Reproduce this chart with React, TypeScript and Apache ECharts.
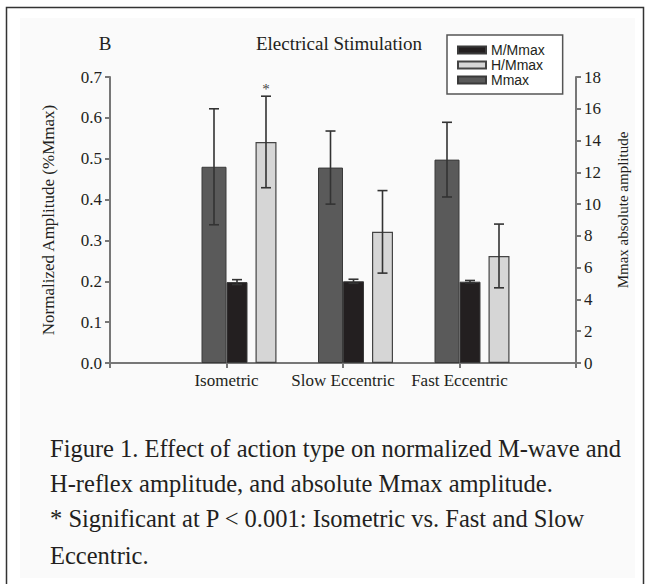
import React, { useEffect, useRef } from "react";
import * as echarts from "echarts";

const categories = ["Isometric", "Slow Eccentric", "Fast Eccentric"];
const mMaxMean = [12.35, 12.3, 12.8];
const mMaxSd = [3.65, 2.3, 2.35];
const mRatioMean = [0.198, 0.2, 0.199];
const mRatioSd = [0.006, 0.005, 0.003];
const hRatioMean = [0.541, 0.321, 0.262];
const hRatioSd = [0.112, 0.101, 0.078];
const significance = ["*", "", ""];
const leftTicks = { min: 0, max: 0.7, interval: 0.1 };
const rightTicks = { min: 0, max: 18, interval: 2 };
const captionLines = [
  "Figure 1. Effect of action type on normalized M-wave and",
  "H-reflex amplitude, and absolute Mmax amplitude.",
  "* Significant at P < 0.001: Isometric vs. Fast and Slow",
  "Eccentric.",
];

const SERIF = "'Liberation Serif', 'Times New Roman', serif";
const SANS = "'Liberation Sans', Arial, sans-serif";
const INK = "#231f20";

// bar widths (px)
const W_LEAD = 25;
const W_MMAX = 25;
const W_M = 21;
const W_GAP = 8;
const W_H = 21;
const TOTAL = W_LEAD + W_MMAX + W_M + W_GAP + W_H;
const start = -TOTAL / 2;
const OFF_MMAX = start + W_LEAD + W_MMAX / 2;
const OFF_M = start + W_LEAD + W_MMAX + W_M / 2;
const OFF_H = start + W_LEAD + W_MMAX + W_M + W_GAP + W_H / 2;

const xData = ["", ...categories, ""];
const pad = (arr: any[]) => ["-", ...arr, "-"];
const errData = (mean: number[], sd: number[]) =>
  mean.map((m, i) => [i + 1, m, sd[i], i]);

function errorSeries(name: string, yAxisIndex: number, mean: number[], sd: number[], offset: number, marks?: string[]) {
  return {
    type: "custom",
    name: name + " error",
    xAxisIndex: 0,
    yAxisIndex,
    silent: true,
    z: 10,
    data: errData(mean, sd),
    encode: { x: 0, y: 1 },
    renderItem: (params: any, api: any) => {
      const idx = api.value(0);
      const m = api.value(1);
      const s = api.value(2);
      const di = api.value(3);
      const top = api.coord([idx, m + s]);
      const bot = api.coord([idx, m - s]);
      const x = top[0] + offset;
      const cap = 5;
      const st = { stroke: "#333", lineWidth: 1.6 };
      const children: any[] = [
        { type: "line", shape: { x1: x, y1: top[1], x2: x, y2: bot[1] }, style: st },
        { type: "line", shape: { x1: x - cap, y1: top[1], x2: x + cap, y2: top[1] }, style: st },
        { type: "line", shape: { x1: x - cap, y1: bot[1], x2: x + cap, y2: bot[1] }, style: st },
      ];
      if (marks && marks[di]) {
        children.push({
          type: "text",
          style: {
            text: marks[di],
            x,
            y: top[1] - 7,
            align: "center",
            verticalAlign: "middle",
            font: `15px ${SERIF}`,
            fill: "#444",
          },
        });
      }
      return { type: "group", children };
    },
  };
}

export default function App() {
  const ref = useRef<HTMLDivElement>(null);
  useEffect(() => {
    if (!ref.current) return;
    const chart = echarts.init(ref.current, undefined, { renderer: "svg" });
    const barBorder = { borderColor: "#3a3a3a", borderWidth: 1 };
    chart.setOption({
      animation: false,
      backgroundColor: "#ffffff",
      grid: { left: 110, right: 74, top: 77, bottom: 221 },
      legend: {
        data: ["M/Mmax", "H/Mmax", "Mmax"],
        orient: "vertical",
        left: 447,
        top: 35,
        itemWidth: 28,
        itemHeight: 7,
        itemGap: 1,
        padding: [8, 18, 7, 10],
        borderColor: "#555",
        borderWidth: 1.5,
        backgroundColor: "#ffffff",
        icon: "rect",
        selectedMode: false,
        textStyle: { fontFamily: SANS, fontSize: 14, color: INK },
      },
      xAxis: {
        type: "category",
        boundaryGap: false,
        data: xData,
        axisLine: { show: true, lineStyle: { color: "#777", width: 2 } },
        axisTick: { show: true, length: 5, lineStyle: { color: "#777", width: 2 } },
        axisLabel: { fontFamily: SERIF, fontSize: 17, color: INK, margin: 9, interval: 0 },
        splitLine: { show: false },
      },
      yAxis: [
        {
          type: "value",
          min: leftTicks.min,
          max: leftTicks.max,
          interval: leftTicks.interval,
          name: "Normalized Amplitude (%Mmax)",
          nameLocation: "middle",
          nameGap: 53,
          nameTextStyle: { fontFamily: SERIF, fontSize: 17, color: INK },
          axisLine: { show: true, lineStyle: { color: "#777", width: 2 } },
          axisTick: { show: true, length: 5, lineStyle: { color: "#777", width: 2 } },
          axisLabel: {
            fontFamily: SERIF,
            fontSize: 17,
            color: INK,
            margin: 8,
            formatter: (v: number) => v.toFixed(1),
          },
          splitLine: { show: false },
        },
        {
          type: "value",
          min: rightTicks.min,
          max: rightTicks.max,
          interval: rightTicks.interval,
          position: "right",
          name: "Mmax absolute amplitude",
          nameLocation: "middle",
          nameGap: 39,
          nameRotate: 90,
          nameTextStyle: { fontFamily: SERIF, fontSize: 15, color: INK, padding: [0, 0, 0, 20] },
          axisLine: { show: true, lineStyle: { color: "#777", width: 2 } },
          axisTick: { show: true, length: 5, lineStyle: { color: "#777", width: 2 } },
          axisLabel: { fontFamily: SERIF, fontSize: 17, color: INK, margin: 8 },
          splitLine: { show: false },
        },
      ],
      series: [
        {
          type: "bar",
          name: "lead",
          yAxisIndex: 0,
          barWidth: W_LEAD,
          barGap: "0%",
          data: pad(categories.map(() => 0)),
          itemStyle: { color: "rgba(0,0,0,0)" },
          silent: true,
        },
        {
          type: "bar",
          name: "Mmax",
          yAxisIndex: 1,
          barWidth: W_MMAX,
          barGap: "0%",
          data: pad(mMaxMean),
          itemStyle: { color: "#5a5a5a", ...barBorder },
        },
        {
          type: "bar",
          name: "M/Mmax",
          yAxisIndex: 0,
          barWidth: W_M,
          barGap: "0%",
          data: pad(mRatioMean),
          itemStyle: { color: "#231f20", ...barBorder },
        },
        {
          type: "bar",
          name: "gap",
          yAxisIndex: 0,
          barWidth: W_GAP,
          barGap: "0%",
          data: pad(categories.map(() => 0)),
          itemStyle: { color: "rgba(0,0,0,0)" },
          silent: true,
        },
        {
          type: "bar",
          name: "H/Mmax",
          yAxisIndex: 0,
          barWidth: W_H,
          barGap: "0%",
          data: pad(hRatioMean),
          itemStyle: { color: "#d6d6d6", borderColor: "#444", borderWidth: 1.2 },
        },
        errorSeries("Mmax", 1, mMaxMean, mMaxSd, OFF_MMAX),
        errorSeries("M/Mmax", 0, mRatioMean, mRatioSd, OFF_M),
        errorSeries("H/Mmax", 0, hRatioMean, hRatioSd, OFF_H, significance),
      ],
      graphic: [
        {
          type: "rect",
          z: -10,
          silent: true,
          shape: { x: 6.5, y: 7.5, width: 637, height: 620 },
          style: { fill: "#ffffff", stroke: "#333", lineWidth: 1.5 },
        },
        {
          type: "rect",
          z: -9,
          silent: true,
          shape: { x: 20, y: 18, width: 615, height: 560 },
          style: { fill: "#fafafa" },
        },
        {
          type: "text",
          x: 105,
          y: 43,
          style: {
            text: "B",
            font: `19px ${SERIF}`,
            fill: INK,
            align: "center",
            verticalAlign: "middle",
          },
        },
        {
          type: "text",
          x: 339,
          y: 43,
          style: {
            text: "Electrical Stimulation",
            font: `19px ${SERIF}`,
            fill: INK,
            align: "center",
            verticalAlign: "middle",
          },
        },
        ...captionLines.map((t, i) => ({
          type: "text",
          x: 50,
          y: [448, 483, 518, 555][i],
          style: {
            text: t,
            font: `24.5px ${SERIF}`,
            fill: INK,
            align: "left",
            verticalAlign: "middle",
          },
        })),
      ],
    });
    return () => chart.dispose();
  }, []);
  return (
    <div
      ref={ref}
      style={{ position: "absolute", left: 0, top: 0, width: 650, height: 584 }}
    />
  );
}
